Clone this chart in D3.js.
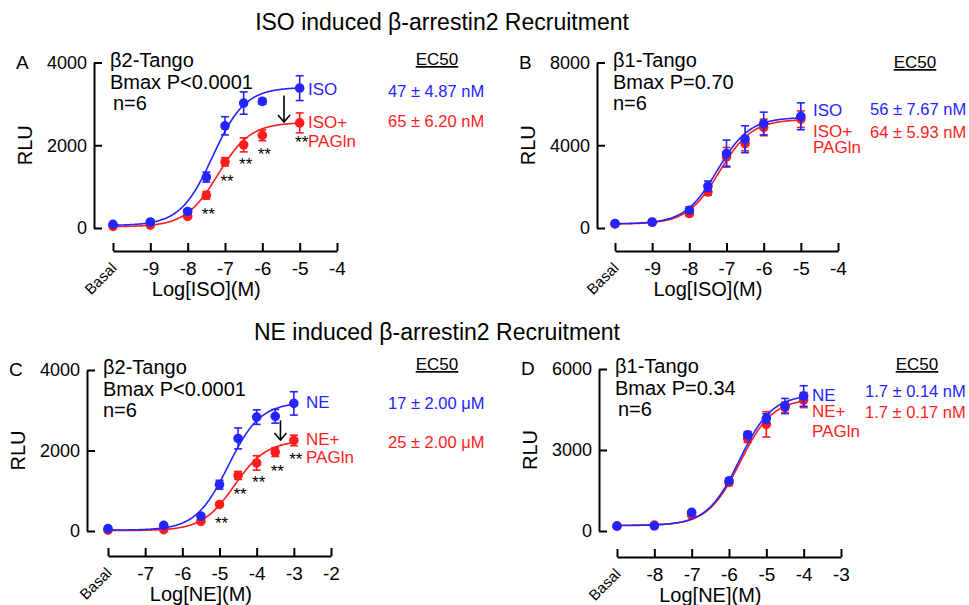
<!DOCTYPE html>
<html>
<head>
<meta charset="utf-8">
<script src="https://cdn.jsdelivr.net/npm/d3@7.9.0/dist/d3.min.js"></script>
<style>
  body { margin: 0; background: #fff; }
  svg { font-family: "Liberation Sans", Arial, sans-serif; }
</style>
</head>
<body>
<svg id="chart" width="969" height="605"></svg>
<script>
const blue = '#2424ff';
const red = '#ff1c1c';

// Panel A: ISO on beta2-Tango
const doseA = [-10, -9, -8, -7.5, -7, -6.5, -6, -5];
const ctrlA = [90, 145, 400, 1230, 2470, 3020, 3060, 3380];
const ctrlSemA = [30, 40, 60, 120, 220, 270, 70, 300];
const pagA = [40, 70, 280, 790, 1600, 2010, 2240, 2540];
const pagSemA = [20, 30, 40, 90, 100, 170, 130, 240];
const fitCtrlA = [60, 3400, -7.33];   // bottom, top, logEC50
const fitPagA = [30, 2550, -7.19];
const starsA = [-7.5, -7, -6.5, -6, -5];

// Panel B: ISO on beta1-Tango
const doseB = [-10, -9, -8, -7.5, -7, -6.5, -6, -5];
const ctrlB = [210, 290, 860, 2020, 3600, 4290, 5050, 5400];
const ctrlSemB = [50, 50, 150, 250, 650, 650, 550, 650];
const pagB = [200, 270, 700, 1740, 3440, 4080, 4860, 5260];
const pagSemB = [50, 50, 120, 150, 450, 350, 400, 400];
const fitCtrlB = [200, 5350, -7.25];
const fitPagB = [190, 5250, -7.19];
const starsB = [];

// Panel C: NE on beta2-Tango
const doseC = [-8, -6.5, -5.5, -5, -4.5, -4, -3.5, -3];
const ctrlC = [60, 140, 370, 1150, 2300, 2830, 2850, 3170];
const ctrlSemC = [30, 40, 50, 110, 260, 180, 170, 290];
const pagC = [20, 35, 240, 660, 1380, 1690, 1960, 2250];
const pagSemC = [10, 20, 40, 40, 100, 180, 110, 130];
const fitCtrlC = [20, 3200, -4.77];
const fitPagC = [10, 2250, -4.6];
const starsC = [-5, -4.5, -4, -3.5, -3];

// Panel D: NE on beta1-Tango
const doseD = [-9, -8, -7, -6, -5.5, -5, -4.5, -4];
const ctrlD = [180, 190, 690, 1860, 3560, 4170, 4630, 5000];
const ctrlSemD = [40, 40, 60, 100, 120, 170, 280, 380];
const pagD = [190, 220, 590, 1800, 3430, 3950, 4570, 4850];
const pagSemD = [40, 40, 60, 120, 150, 470, 200, 280];
const fitCtrlD = [200, 5050, -5.72];
const fitPagD = [210, 4900, -5.70];
const starsD = [];

// Labels
const panelIds = ['A', 'B', 'C', 'D'];
const receptors = ['β2-Tango', 'β1-Tango', 'β2-Tango', 'β1-Tango'];
const bmaxP = ['Bmax P<0.0001', 'Bmax P=0.70', 'Bmax P<0.0001', 'Bmax P=0.34'];
const agonists = ['ISO', 'ISO', 'NE', 'NE'];
const ec50Ctrl = ['47 ± 4.87 nM', '56 ± 7.67 nM', '17 ± 2.00 μM', '1.7 ± 0.14 nM'];
const ec50Pag = ['65 ± 6.20 nM', '64 ± 5.93 nM', '25 ± 2.00 μM', '1.7 ± 0.17 nM'];
const yMax = [4000, 8000, 4000, 6000];
const yTicks = [[0, 2000, 4000], [0, 4000, 8000], [0, 2000, 4000], [0, 3000, 6000]];
const xTicks = [
  [-10, -9, -8, -7, -6, -5, -4],
  [-10, -9, -8, -7, -6, -5, -4],
  [-8, -7, -6, -5, -4, -3, -2],
  [-9, -8, -7, -6, -5, -4, -3]
];
const xLabels = ['Log[ISO](M)', 'Log[ISO](M)', 'Log[NE](M)', 'Log[NE](M)'];
const titles = ['ISO induced β-arrestin2 Recruitment', 'NE induced β-arrestin2 Recruitment'];

// where each panel sits on the page
const frames = [
  { axisX: 94, xr: [113, 337], yr: [228, 62.5], xAxisY: 251, ec50X: 437, ec50Y: 65, valX: 388, valY: [97, 127], legX: 308, legY: [95, 128, 147], nDx: 3, xLabelAt: -7.5 },
  { axisX: 597, xr: [615, 838], yr: [228, 62.5], xAxisY: 251, ec50X: 915, ec50Y: 68, valX: 870, valY: [115, 138], legX: 813, legY: [116, 137, 153], nDx: 0, xLabelAt: -7.5 },
  { axisX: 87, xr: [108, 331], yr: [531, 370], xAxisY: 556, ec50X: 437, ec50Y: 370, valX: 388, valY: [409, 448], legX: 306, legY: [408, 445, 463], nDx: 0, xLabelAt: -5.5 },
  { axisX: 599, xr: [617, 841], yr: [531, 369], xAxisY: 557, ec50X: 917, ec50Y: 370, valX: 865, valY: [397, 418], legX: 812, legY: [401, 417, 437], nDx: 3, xLabelAt: -6.5 }
];
const arrows = [
  { panel: 0, dose: -5.42, from: 3200, to: 2560 },
  { panel: 2, dose: -3.36, from: 2750, to: 2260 }
];

const doses = [doseA, doseB, doseC, doseD];
const ctrl = [ctrlA, ctrlB, ctrlC, ctrlD];
const ctrlSem = [ctrlSemA, ctrlSemB, ctrlSemC, ctrlSemD];
const pag = [pagA, pagB, pagC, pagD];
const pagSem = [pagSemA, pagSemB, pagSemC, pagSemD];
const fitCtrl = [fitCtrlA, fitCtrlB, fitCtrlC, fitCtrlD];
const fitPag = [fitPagA, fitPagB, fitPagC, fitPagD];
const stars = [starsA, starsB, starsC, starsD];

const svg = d3.select('#chart');

svg.append('text').attr('x', 442).attr('y', 30).attr('text-anchor', 'middle')
  .attr('font-size', 23).text(titles[0]);
svg.append('text').attr('x', 437).attr('y', 340).attr('text-anchor', 'middle')
  .attr('font-size', 23).text(titles[1]);

// 4-parameter logistic with Hill slope 1
const logistic = (f, d) => f[0] + (f[1] - f[0]) / (1 + Math.pow(10, f[2] - d));

function drawPanel(i) {
  const fr = frames[i];
  const dose = doses[i];
  const xDomain = [xTicks[i][0], xTicks[i][xTicks[i].length - 1]];
  const x = d3.scaleLinear().domain(xDomain).range(fr.xr);
  const y = d3.scaleLinear().domain([0, yMax[i]]).range(fr.yr);
  const g = svg.append('g');

  // y axis, ticks pointing inward
  g.append('g')
    .attr('transform', `translate(${fr.axisX},0)`)
    .call(d3.axisLeft(y).tickValues(yTicks[i]).tickSize(-8).tickSizeOuter(0)
      .tickPadding(7).tickFormat(d => String(d)))
    .call(a => {
      a.attr('font-family', null).attr('font-size', 18);
      a.selectAll('path, line').attr('stroke', '#000').attr('stroke-width', 2);
    });

  // x axis, ticks pointing up
  const xa = g.append('g')
    .attr('transform', `translate(0,${fr.xAxisY})`)
    .call(d3.axisBottom(x).tickValues(xTicks[i]).tickSize(-8).tickSizeOuter(0)
      .tickPadding(11).tickFormat(d => d === xDomain[0] ? 'Basal' : String(d)));
  xa.attr('font-family', null).attr('font-size', 19);
  xa.selectAll('path, line').attr('stroke', '#000').attr('stroke-width', 2);
  xa.selectAll('.tick text').filter(d => d === xDomain[0])
    .attr('font-size', 15).attr('text-anchor', 'end')
    .attr('y', 0).attr('dy', null)
    .attr('transform', 'translate(4,18) rotate(-45)');

  // axis titles
  g.append('text').attr('x', x(fr.xLabelAt)).attr('y', fr.xAxisY + 45)
    .attr('text-anchor', 'middle').attr('font-size', 20).text(xLabels[i]);
  g.append('text')
    .attr('transform', `translate(${fr.axisX - 62},${(fr.yr[0] + fr.yr[1]) / 2}) rotate(-90)`)
    .attr('text-anchor', 'middle').attr('font-size', 20).text('RLU');

  // panel letter and info lines
  g.append('text').attr('x', fr.axisX - 78).attr('y', fr.yr[1] + 6)
    .attr('font-size', 19).text(panelIds[i]);
  const info = [receptors[i], bmaxP[i], 'n=6'];
  info.forEach((t, k) => {
    g.append('text')
      .attr('x', fr.axisX + 16 + (k === 2 ? fr.nDx : 0))
      .attr('y', fr.yr[1] + [4, 26, 47][k])
      .attr('font-size', 20).text(t);
  });

  // EC50 block
  g.append('text').attr('x', fr.ec50X).attr('y', fr.ec50Y).attr('text-anchor', 'middle')
    .attr('font-size', 17).attr('text-decoration', 'underline').text('EC50');
  g.append('text').attr('x', fr.valX).attr('y', fr.valY[0]).attr('font-size', 16.5)
    .attr('fill', blue).text(ec50Ctrl[i]);
  g.append('text').attr('x', fr.valX).attr('y', fr.valY[1]).attr('font-size', 16.5)
    .attr('fill', red).text(ec50Pag[i]);

  // series legend next to the curves
  g.append('text').attr('x', fr.legX).attr('y', fr.legY[0]).attr('font-size', 17)
    .attr('fill', blue).text(agonists[i]);
  g.append('text').attr('x', fr.legX).attr('y', fr.legY[1]).attr('font-size', 17)
    .attr('fill', red).text(agonists[i] + '+');
  g.append('text').attr('x', fr.legX).attr('y', fr.legY[2]).attr('font-size', 17)
    .attr('fill', red).text('PAGln');

  const line = d3.line().x(d => x(d[0])).y(d => y(d[1]));
  const xs = d3.range(dose[0], dose[dose.length - 1] + 0.001, 0.02);

  const series = [
    { vals: pag[i], sem: pagSem[i], fit: fitPag[i], color: red },
    { vals: ctrl[i], sem: ctrlSem[i], fit: fitCtrl[i], color: blue }
  ];

  series.forEach(s => {
    g.append('path')
      .attr('d', line(xs.map(d => [d, logistic(s.fit, d)])))
      .attr('fill', 'none').attr('stroke', s.color).attr('stroke-width', 1.6);

    const pts = dose.map((d, k) => ({ d, v: s.vals[k], e: s.sem[k] }));
    const eb = g.append('g').attr('stroke', s.color).attr('stroke-width', 1.6);
    pts.forEach(p => {
      eb.append('line').attr('x1', x(p.d)).attr('x2', x(p.d))
        .attr('y1', y(p.v - p.e)).attr('y2', y(p.v + p.e));
      [p.v - p.e, p.v + p.e].forEach(v => {
        eb.append('line').attr('x1', x(p.d) - 4).attr('x2', x(p.d) + 4)
          .attr('y1', y(v)).attr('y2', y(v));
      });
    });

    g.selectAll(null).data(pts).join('circle')
      .attr('cx', p => x(p.d)).attr('cy', p => y(p.v)).attr('r', 4.8)
      .attr('fill', s.color);
  });

  // significance stars under the PAGln points
  stars[i].forEach(sd => {
    const k = dose.indexOf(sd);
    g.append('text').attr('x', x(sd) + 2).attr('y', y(pag[i][k]) + 25)
      .attr('text-anchor', 'middle').attr('font-size', 17).text('**');
  });

  arrows.filter(a => a.panel === i).forEach(a => {
    const ax = x(a.dose), y0 = y(a.from), y1 = y(a.to);
    g.append('line').attr('x1', ax).attr('x2', ax).attr('y1', y0).attr('y2', y1)
      .attr('stroke', '#000').attr('stroke-width', 1.6);
    g.append('path')
      .attr('d', `M${ax - 6},${y1 - 7}L${ax},${y1}L${ax + 6},${y1 - 7}`)
      .attr('fill', 'none').attr('stroke', '#000').attr('stroke-width', 1.6);
  });
}

panelIds.forEach((_, i) => drawPanel(i));
</script>
</body>
</html>
